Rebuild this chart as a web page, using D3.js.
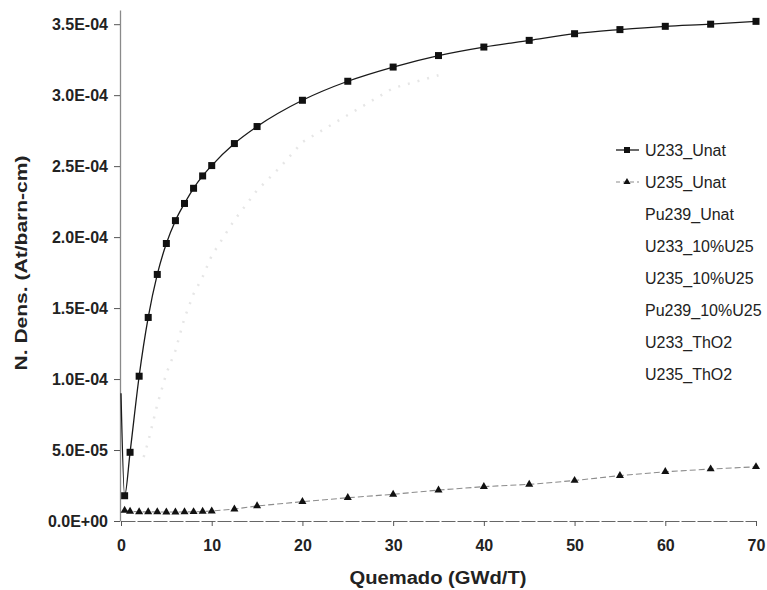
<!DOCTYPE html>
<html>
    <head>
        <title>Densidad numerica vs quemado</title>
        <meta charset="utf-8">
        <script src="https://d3js.org/d3.v7.min.js"></script>
        <style>
            body { margin: 0; background: #fff; }
            text { font-family: "Liberation Sans", Arial, sans-serif; }
        </style>
    </head>
    <body>
        <script>
            // burnup (GWd/T) and number densities
            var u233UnatX = [0, 0.4, 1, 2, 3, 4, 5, 6, 7, 8, 9, 10, 12.5, 15, 20, 25, 30, 35, 40, 45, 50, 55, 60, 65, 70];
            var u233UnatY = [9.0e-5, 1.78e-5, 4.84e-5, 1.02e-4, 1.434e-4, 1.737e-4, 1.955e-4, 2.116e-4, 2.237e-4, 2.344e-4, 2.431e-4, 2.504e-4,
                             2.659e-4, 2.779e-4, 2.964e-4, 3.098e-4, 3.198e-4, 3.279e-4, 3.339e-4, 3.386e-4, 3.433e-4, 3.462e-4, 3.485e-4, 3.50e-4, 3.52e-4];

            var u235UnatX = [0.4, 1, 2, 3, 4, 5, 6, 7, 8, 9, 10, 12.5, 15, 20, 25, 30, 35, 40, 45, 50, 55, 60, 65, 70];
            var u235UnatY = [7.4e-6, 6.8e-6, 6.4e-6, 6.4e-6, 6.4e-6, 6.3e-6, 6.3e-6, 6.4e-6, 6.5e-6, 6.7e-6, 7.0e-6, 8.4e-6, 1.06e-5,
                             1.36e-5, 1.64e-5, 1.88e-5, 2.18e-5, 2.42e-5, 2.58e-5, 2.85e-5, 3.2e-5, 3.47e-5, 3.66e-5, 3.82e-5];

            // faint (barely printed) curve
            var u233MixX = [2.5, 3, 4, 5, 6, 7, 8, 9, 10, 12.5, 15, 17.5, 20, 30, 35];
            var u233MixY = [4.5e-5, 5.6e-5, 8.2e-5, 1.04e-4, 1.2e-4, 1.43e-4, 1.6e-4, 1.72e-4, 1.87e-4, 2.12e-4, 2.33e-4, 2.49e-4, 2.67e-4, 3.05e-4, 3.14e-4];

            var legendNames = ["U233_Unat", "U235_Unat", "Pu239_Unat", "U233_10%U25", "U235_10%U25", "Pu239_10%U25", "U233_ThO2", "U235_ThO2"];

            var xTicks = [0, 10, 20, 30, 40, 50, 60, 70];
            var yTicks = [0, 5e-5, 1e-4, 1.5e-4, 2e-4, 2.5e-4, 3e-4, 3.5e-4];
            var yTickLabels = ["0.0E+00", "5.0E-05", "1.0E-04", "1.5E-04", "2.0E-04", "2.5E-04", "3.0E-04", "3.5E-04"];

            function zip(xs, ys) {
                return xs.map(function(d, i){ return {x: d, y: ys[i]}; });
            }

            function init(){
                var svg = d3.select("body").append("svg")
                        .attr("width", 767)
                        .attr("height", 590);
                svg.append("rect").attr("width", 767).attr("height", 590).attr("fill", "#fff");

                var x = d3.scaleLinear().domain([0, 70]).range([121, 756]);
                var y = d3.scaleLinear().domain([0, 3.6e-4]).range([521, 10]);

                // axes
                var gy = svg.append("g").attr("transform", "translate(120,0)")
                        .call(d3.axisLeft(y).tickValues(yTicks)
                            .tickFormat(function(d, i){ return yTickLabels[i]; })
                            .tickSize(6).tickSizeOuter(0).tickPadding(6));
                gy.select(".domain").attr("stroke", "#8a8a8a").attr("stroke-width", 1.3);
                gy.selectAll(".tick line").attr("stroke", "#555");
                gy.selectAll(".tick text")
                        .attr("font-size", 16).attr("font-weight", "bold").attr("fill", "#222");

                var gx = svg.append("g").attr("transform", "translate(0,521)")
                        .call(d3.axisBottom(x).tickValues(xTicks)
                            .tickSize(5).tickSizeOuter(0).tickPadding(14));
                gx.select(".domain").attr("stroke", "#666").attr("stroke-width", 1.2)
                        .attr("stroke-dasharray", "14,2");
                gx.selectAll(".tick line").attr("stroke", "#555");
                gx.selectAll(".tick text")
                        .attr("font-size", 16).attr("font-weight", "bold").attr("fill", "#222");

                // axis titles
                svg.append("text")
                        .attr("x", 438).attr("y", 584)
                        .attr("text-anchor", "middle")
                        .attr("font-size", 18).attr("font-weight", "bold").attr("fill", "#222")
                        .attr("textLength", 177).attr("lengthAdjust", "spacingAndGlyphs")
                        .text("Quemado (GWd/T)");
                svg.append("text")
                        .attr("transform", "translate(27,263) rotate(-90)")
                        .attr("text-anchor", "middle")
                        .attr("font-size", 17).attr("font-weight", "bold").attr("fill", "#222")
                        .attr("textLength", 215).attr("lengthAdjust", "spacingAndGlyphs")
                        .text("N. Dens. (At/barn-cm)");

                var line = d3.line().x(function(d){ return x(d.x); }).y(function(d){ return y(d.y); });

                // faint series
                var mix = zip(u233MixX, u233MixY);
                svg.append("path").datum(mix)
                        .attr("d", line).attr("fill", "none")
                        .attr("stroke", "#e6e6e6").attr("stroke-width", 2.5)
                        .attr("stroke-dasharray", "2,8");

                // U235_Unat
                var u235 = zip(u235UnatX, u235UnatY);
                svg.append("path").datum(u235)
                        .attr("d", line).attr("fill", "none")
                        .attr("stroke", "#8c8c8c").attr("stroke-width", 1.1)
                        .attr("stroke-dasharray", "6,3");
                svg.selectAll(".tri").data(u235).enter().append("path")
                        .attr("class", "tri")
                        .attr("d", d3.symbol().type(d3.symbolTriangle).size(28))
                        .attr("transform", function(d){ return "translate(" + x(d.x) + "," + y(d.y) + ")"; })
                        .attr("fill", "#111");

                // U233_Unat
                var u233 = zip(u233UnatX, u233UnatY);
                svg.append("path").datum(u233)
                        .attr("d", line.curve(d3.curveMonotoneX)).attr("fill", "none")
                        .attr("stroke", "#1a1a1a").attr("stroke-width", 1.3);
                line.curve(d3.curveLinear);
                svg.selectAll(".sq").data(u233.filter(function(d){ return d.x > 0; })).enter().append("rect")
                        .attr("class", "sq")
                        .attr("x", function(d){ return x(d.x) - 3.5; })
                        .attr("y", function(d){ return y(d.y) - 3.5; })
                        .attr("width", 7).attr("height", 7)
                        .attr("fill", "#111");

                // legend
                var lg = svg.append("g").attr("transform", "translate(0,150)");
                var rows = lg.selectAll("g").data(legendNames).enter().append("g")
                        .attr("transform", function(d, i){ return "translate(0," + (i * 32) + ")"; });
                rows.append("text")
                        .attr("x", 645).attr("y", 6)
                        .attr("font-size", 16).attr("fill", "#222")
                        .text(function(d){ return d; });

                lg.append("line").attr("x1", 616).attr("x2", 639).attr("y1", 0).attr("y2", 0)
                        .attr("stroke", "#1a1a1a").attr("stroke-width", 1.3);
                lg.append("rect").attr("x", 624).attr("y", -3).attr("width", 6).attr("height", 6).attr("fill", "#111");
                lg.append("line").attr("x1", 616).attr("x2", 639).attr("y1", 32).attr("y2", 32)
                        .attr("stroke", "#8c8c8c").attr("stroke-width", 1.1).attr("stroke-dasharray", "4,3");
                lg.append("path").attr("d", d3.symbol().type(d3.symbolTriangle).size(22))
                        .attr("transform", "translate(627,32)").attr("fill", "#111");
            }

            init();
        </script>
    </body>
</html>
